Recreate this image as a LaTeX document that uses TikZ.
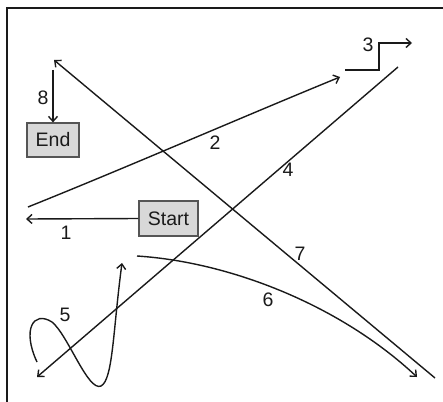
\documentclass[tikz,border=0pt]{standalone}
\usepackage{fontspec}
\setmainfont{Liberation Sans}
\usetikzlibrary{arrows.meta}
\definecolor{boxfill}{HTML}{D8D8D8}
\definecolor{boxline}{HTML}{555555}
\definecolor{ink}{HTML}{1A1A1A}
\begin{document}
\begin{tikzpicture}[x=1pt,y=-1pt,
  box/.style={draw=boxline, fill=boxfill, line width=1.2pt, inner sep=0pt,
    font=\fontsize{19.5}{19.5}\selectfont, text=ink},
  conn/.style={draw=ink, line width=1.4pt, -{Straight Barb[length=5pt,width=9pt]}},
  lbl/.style={font=\fontsize{19.5}{19.5}\selectfont, text=ink, inner sep=0pt},
  frameline/.style={draw=ink, line width=2.2pt}]
\useasboundingbox (0,0) rectangle (443,401);
% frame
\coordinate (fbl) at (7,402);
\coordinate (ftl) at (7,8);
\coordinate (ftr) at (444,8);
\draw[frameline] (fbl) -- (ftl) -- (ftr);
% nodes
\node[box, minimum width=52pt, minimum height=34pt] (End) at (53,140) {End};
\node[box, minimum width=59pt, minimum height=35pt] (Start) at (168.5,218.5) {Start};
% coordinates
\coordinate (e1) at (26,219);
\coordinate (s2) at (28,207);
\coordinate (e2) at (340,77);
\coordinate (s3) at (345,70);
\coordinate (c3a) at (379,70);
\coordinate (c3b) at (379,43);
\coordinate (e3) at (412,43);
\coordinate (s4) at (398,67);
\coordinate (e4) at (37,377);
\coordinate (s5) at (37,362);
\coordinate (e5) at (122,263);
\coordinate (s6) at (137,256);
\coordinate (e6) at (417,377);
\coordinate (s7) at (435,378);
\coordinate (e7) at (54,60);
\coordinate (s8) at (53,70);
% connectors
\draw[conn] (Start.west) -- (e1);
\draw[conn] (s2) .. controls (130,166) and (240,118) .. (e2);
\draw[conn] (s3) -- (c3a) -- (c3b) -- (e3);
\draw[conn] (s4) -- (e4);
\draw[conn] (s5) .. controls (22,330) and (33,310) .. (52,322)
  .. controls (68,335) and (88,392) .. (101,386)
  .. controls (113,380) and (113,330) .. (e5);
\draw[conn] (s6) .. controls (230,262) and (340,305) .. (e6);
\draw[conn] (s7) -- (e7);
\draw[conn] (s8) -- (End.north);
% labels
\node[lbl] (l1) at (66,233) {1};
\node[lbl] (l2) at (215,143) {2};
\node[lbl] (l3) at (368,45) {3};
\node[lbl] (l4) at (288,170) {4};
\node[lbl] (l5) at (65,315) {5};
\node[lbl] (l6) at (268,300) {6};
\node[lbl] (l7) at (300,254) {7};
\node[lbl] (l8) at (43,98) {8};
\end{tikzpicture}
\end{document}
